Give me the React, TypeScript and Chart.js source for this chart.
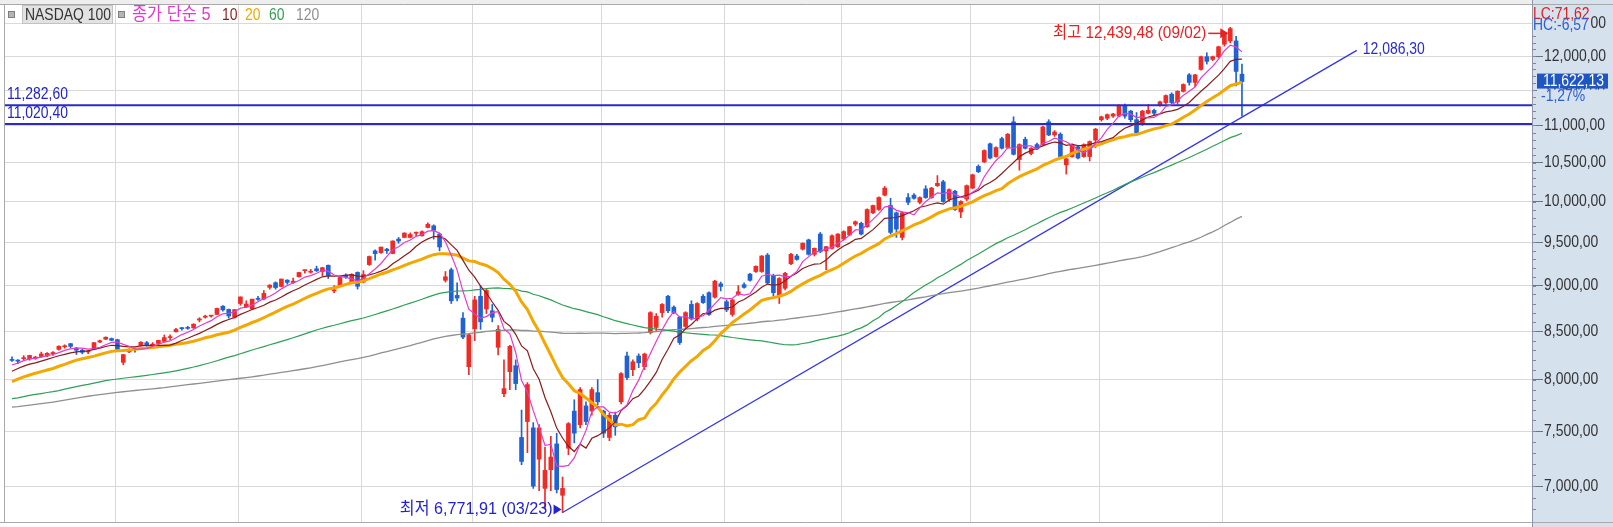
import React, { useEffect, useRef } from "react";
import { Chart, registerables } from "chart.js";

Chart.register(...registerables);

const W = 1613;
const H = 527;
const FONT = "'Liberation Sans', Arial, 'Noto Sans CJK KR', sans-serif";

// Daily NASDAQ 100 candles, 2019-11-05 .. 2020-09-04 (one line per month)
const opens = [
  8205, 8195, 8212, 8210, 8218, 8235, 8240, 8262, 8308, 8335, 8368, 8322, 8300, 8282, 8310, 8385, 8415, 8422,
  8410, 8175, 8282, 8318, 8350, 8378, 8343, 8370, 8392, 8432, 8495, 8532, 8538, 8535, 8620, 8650, 8662, 8680, 8770, 8735, 8650,
  8800, 8762, 8740, 8856, 8850, 8980, 9032, 8990, 9062, 9035, 9100, 9170, 9152, 9192, 9160, 9232, 8940, 9000, 9120, 9040, 9150,
  9040, 9240, 9400, 9380, 9420, 9370, 9540, 9560, 9560, 9610, 9580, 9680, 9700, 9600, 9060, 9180, 8890, 8640, 8130,
  8525, 8880, 8740, 8720, 8330, 7860, 8080, 8140, 7440, 7590, 7530, 7240, 6980, 7145, 7380, 6920, 7340, 7690, 7560, 7740, 7690, 7870,
  7690, 7440, 7650, 7780, 8240, 8100, 8240, 8130, 8485, 8540, 8700, 8880, 8760, 8650, 8550, 8790, 8630, 8880, 8920, 8870, 9020,
  8820, 8680, 8900, 9010, 9130, 9160, 9160, 9350, 9110, 8890, 8970, 9250, 9340, 9420, 9530, 9360, 9600, 9400, 9430, 9450,
  9540, 9590, 9720, 9730, 9690, 9860, 9900, 10080, 9950, 9860, 9560, 10050, 10080, 9990, 10160, 10050, 10200, 10250, 10030, 10130, 9870, 10030,
  10170, 10450, 10510, 10750, 10580, 10820, 10700, 11050, 10540, 10810, 10620, 10740, 10740, 11050, 10870, 10880, 10470, 10580, 10710, 10580, 10580, 10800,
  11080, 11100, 11130, 11130, 11270, 11200, 11080, 11020, 11170, 11210, 11280, 11320, 11440, 11330, 11480, 11720, 11610, 11800, 11990, 11950, 11990,
  12180, 12230, 12230, 11730,
];
const highs = [
  8232, 8203, 8244, 8248, 8236, 8280, 8275, 8285, 8345, 8356, 8372, 8330, 8310, 8302, 8380, 8405, 8440, 8428,
  8415, 8258, 8315, 8322, 8390, 8392, 8380, 8405, 8460, 8462, 8530, 8542, 8552, 8580, 8645, 8672, 8670, 8750, 8776, 8740, 8735,
  8873, 8830, 8850, 8880, 8945, 9010, 9042, 9075, 9066, 9085, 9150, 9176, 9185, 9222, 9210, 9236, 9000, 9100, 9135, 9135, 9156,
  9170, 9340, 9412, 9445, 9430, 9520, 9560, 9615, 9615, 9625, 9640, 9736, 9712, 9610, 9160, 9200, 9030, 8700, 8470,
  8880, 9000, 8960, 8790, 8560, 8200, 8350, 8200, 7700, 7970, 7580, 7560, 7350, 7450, 7480, 7080, 7580, 7800, 7920, 7780, 7920, 8000,
  7700, 7670, 7680, 8070, 8280, 8200, 8262, 8270, 8710, 8690, 8800, 8890, 8775, 8660, 8710, 8830, 8810, 8900, 8930, 9060, 9040,
  8840, 8850, 9000, 9030, 9140, 9225, 9345, 9370, 9130, 9090, 9150, 9370, 9360, 9495, 9540, 9435, 9620, 9455, 9590, 9605,
  9640, 9695, 9760, 9745, 9910, 9955, 10060, 10190, 10040, 9870, 9870, 10100, 10100, 10060, 10200, 10180, 10330, 10270, 10160, 10140, 10010, 10210,
  10350, 10470, 10670, 10760, 10710, 10840, 10890, 11120, 10750, 10840, 10700, 10760, 10990, 11080, 10930, 10900, 10560, 10750, 10730, 10750, 10790, 10960,
  11130, 11160, 11170, 11290, 11300, 11210, 11180, 11210, 11290, 11230, 11340, 11430, 11460, 11490, 11590, 11740, 11730, 12000, 12050, 12000, 12150,
  12370, 12439.48, 12300, 11880,
];
const lows = [
  8183, 8160, 8198, 8196, 8205, 8225, 8232, 8246, 8300, 8320, 8325, 8255, 8262, 8265, 8310, 8378, 8410, 8400,
  8290, 8150, 8275, 8280, 8345, 8340, 8330, 8360, 8385, 8410, 8490, 8510, 8520, 8530, 8600, 8640, 8650, 8680, 8715, 8640, 8640,
  8780, 8755, 8735, 8835, 8840, 8960, 8960, 8985, 9015, 9025, 9095, 9140, 9140, 9160, 9110, 9080, 8920, 8990, 9080, 9020, 8960,
  9030, 9230, 9290, 9370, 9370, 9365, 9490, 9555, 9555, 9580, 9575, 9675, 9540, 9400, 9040, 8800, 8830, 8420, 8050,
  8400, 8520, 8690, 8600, 8250, 7830, 7900, 7900, 7190, 7300, 6980, 6960, 6800, 6960, 6940, 6771.91, 7280, 7390, 7530, 7560, 7650, 7750,
  7440, 7410, 7460, 7760, 8000, 8040, 8120, 8100, 8470, 8500, 8650, 8700, 8690, 8360, 8540, 8620, 8610, 8800, 8670, 8860, 8940,
  8710, 8660, 8890, 8970, 9050, 9150, 9150, 9020, 8880, 8800, 8950, 9240, 9290, 9410, 9350, 9340, 9380, 9180, 9420, 9440,
  9530, 9580, 9700, 9590, 9680, 9850, 9890, 10070, 9600, 9560, 9530, 9960, 10030, 9970, 10040, 10040, 10190, 9990, 10000, 9890, 9800, 10010,
  10160, 10370, 10500, 10550, 10570, 10680, 10690, 10600, 10400, 10680, 10600, 10670, 10730, 10860, 10850, 10570, 10350, 10570, 10550, 10570, 10520, 10700,
  11060, 11080, 11110, 11120, 11100, 11050, 10880, 11000, 11160, 11150, 11270, 11300, 11300, 11300, 11470, 11570, 11550, 11790, 11880, 11930, 11970,
  12150, 12200, 11560, 11130,
];
const closes = [
  8194, 8187, 8220, 8245, 8229, 8261, 8267, 8276, 8341, 8346, 8340, 8300, 8278, 8290, 8379, 8399, 8436, 8403,
  8309, 8254, 8300, 8307, 8382, 8345, 8363, 8403, 8432, 8440, 8518, 8527, 8530, 8575, 8632, 8662, 8665, 8746, 8730, 8664, 8733,
  8873, 8794, 8848, 8846, 8912, 9005, 8978, 9074, 9036, 9050, 9149, 9173, 9160, 9169, 9204, 9115, 8953, 9092, 9098, 9125, 8992,
  9126, 9334, 9368, 9445, 9402, 9517, 9517, 9613, 9595, 9623, 9629, 9718, 9645, 9446, 9100, 8830, 8860, 8437, 8462,
  8840, 8600, 8945, 8650, 8520, 7910, 8340, 7960, 7220, 7950, 7000, 7530, 7140, 7260, 6970, 6980, 7570, 7480, 7900, 7590, 7900, 7780,
  7480, 7650, 7540, 8060, 8020, 8180, 8170, 8260, 8700, 8660, 8790, 8720, 8700, 8380, 8700, 8640, 8800, 8810, 8680, 9050, 8990,
  8730, 8840, 8930, 8980, 9060, 9220, 9340, 9030, 8920, 9080, 9140, 9360, 9300, 9490, 9360, 9430, 9390, 9450, 9580, 9600,
  9630, 9690, 9750, 9600, 9900, 9950, 10050, 10170, 9620, 9660, 9860, 9990, 10040, 10050, 10050, 10170, 10230, 10000, 10150, 9900, 10000, 10200,
  10340, 10380, 10660, 10560, 10700, 10690, 10880, 10610, 10740, 10690, 10690, 10680, 10980, 10870, 10910, 10580, 10550, 10740, 10560, 10740, 10780, 10950,
  11120, 11150, 11160, 11280, 11130, 11080, 10900, 11200, 11210, 11170, 11330, 11420, 11320, 11480, 11580, 11610, 11720, 11990, 11920, 11990, 12140,
  12360, 12420, 11771.13, 11622.13,
];
// closes before the first visible candle (2019-05-17 .. 2019-11-04), used by the moving averages
const priorCloses = [
  7500, 7370, 7460, 7430, 7330, 7340, 7320, 7260, 7290, 7130,
  6980, 7180, 7240, 7320, 7450, 7530, 7520, 7510, 7550, 7520, 7570, 7670, 7700, 7750, 7720, 7710, 7560, 7600, 7630, 7670,
  7770, 7790, 7850, 7840, 7780, 7820, 7880, 7890, 7940, 7960, 7940, 7900, 7920, 7840, 7910, 7960, 8000, 7940, 8020, 7990, 7960, 7850,
  7790, 7700, 7440, 7560, 7590, 7760, 7690, 7600, 7760, 7520, 7520, 7640, 7720, 7670, 7740, 7720, 7490, 7570, 7540, 7580, 7690, 7660,
  7610, 7710, 7850, 7850, 7830, 7820, 7900, 7920, 7900, 7880, 7910, 7910, 7910, 7830, 7820, 7710, 7790, 7740, 7670, 7750,
  7660, 7570, 7640, 7760, 7720, 7620, 7700, 7760, 7860, 7860, 7950, 7940, 7970, 7880, 7950, 7880, 7900, 7980, 8040, 8110, 8070, 8090, 8090,
  8160, 8200,
];

const monthStartIdx = [18, 39, 60, 79, 101, 122, 142, 164, 186, 207];
const priceTicks = [7000, 7500, 8000, 8500, 9000, 9500, 10000, 10500, 11000, 11500, 12000, 12500];
const levelLines = [11282.6, 11020.4];
const trendPoints = [
  { x: 94, y: 6771.91 },
  { x: 229.6, y: 12086.3 },
];
const maPeriods = [5, 10, 20, 60, 120];
const maColors = ["#e03ccf", "#8a1c1c", "#f4a700", "#2f9f57", "#8f8f8f"];
const maWidths = [1.2, 1.2, 3, 1.2, 1.3];
const legendTitle = "NASDAQ 100";
const legendPrefix = "종가 단순";
const highIdx = 208;
const lowIdx = 94;
const highDate = "09/02";
const lowDate = "03/23";

const UP = "#ee2b25";
const DOWN = "#1f62d3";
const AXIS_BG = "#d6e1ee";

function fmt(v: number, d = 2): string {
  const s = Math.abs(v).toFixed(d);
  const [a, b] = s.split(".");
  const withC = a.replace(/\B(?=(\d{3})+(?!\d))/g, ",");
  return (v < 0 ? "-" : "") + withC + (b !== undefined ? "," + b : "");
}

const allCloses = [...priorCloses, ...closes];
function sma(n: number): number[] {
  return closes.map((_, i) => {
    const end = priorCloses.length + i;
    let s = 0;
    for (let k = end - n + 1; k <= end; k++) s += allCloses[k];
    return s / n;
  });
}

// draws horizontally condensed text; returns the drawn width
function txt(
  ctx: CanvasRenderingContext2D,
  s: string,
  x: number,
  y: number,
  color: string,
  size = 17,
  align: CanvasTextAlign = "left",
  sx = 0.82
): number {
  ctx.save();
  ctx.font = `${size}px ${FONT}`;
  ctx.fillStyle = color;
  ctx.textBaseline = "middle";
  ctx.textAlign = align;
  const w = ctx.measureText(s).width * sx;
  ctx.translate(x, y);
  ctx.scale(sx, 1);
  ctx.fillText(s, 0, 0);
  ctx.restore();
  return w;
}
function txtW(ctx: CanvasRenderingContext2D, s: string, size = 17, sx = 0.82): number {
  ctx.save();
  ctx.font = `${size}px ${FONT}`;
  const w = ctx.measureText(s).width * sx;
  ctx.restore();
  return w;
}

export default function App() {
  const ref = useRef<HTMLCanvasElement | null>(null);

  useEffect(() => {
    document.body.style.margin = "0";
    const canvas = ref.current!;
    const candleColors = closes.map((c, i) => (c >= opens[i] ? UP : DOWN));

    const maSets = maPeriods.map((p, k) => ({
      type: "line" as const,
      label: "MA" + p,
      data: sma(p).map((v, i) => ({ x: i, y: v })),
      borderColor: maColors[k],
      borderWidth: maWidths[k],
      pointRadius: 0,
      tension: 0,
      order: 0,
    }));

    const decor = {
      id: "decor",
      beforeDraw(chart: any) {
        const { ctx, chartArea: ca } = chart;
        ctx.save();
        ctx.fillStyle = "#ffffff";
        ctx.fillRect(0, 0, W, H);
        ctx.fillStyle = "#eeeeee";
        ctx.fillRect(0, 0, ca.right, ca.top);
        ctx.fillStyle = AXIS_BG;
        ctx.fillRect(ca.right, 0, W - ca.right, H);
        ctx.restore();
      },
      afterDraw(chart: any) {
        const { ctx, chartArea: ca, scales } = chart;
        const xs = scales.x;
        const ys = scales.y;
        ctx.save();

        // minor ticks on price axis
        ctx.strokeStyle = "#7d8795";
        ctx.lineWidth = 1;
        for (let p = 6800; p <= 12800; p += 100) {
          const y = Math.round(ys.getPixelForValue(p)) + 0.5;
          if (y < ca.top || y > ca.bottom) continue;
          ctx.beginPath();
          ctx.moveTo(ca.right, y);
          ctx.lineTo(ca.right + 4, y);
          ctx.stroke();
        }
        // price tick labels
        priceTicks.forEach((v) => {
          txt(ctx, fmt(v), ca.right + 12, ys.getPixelForValue(v), "#333333");
        });

        // frame
        ctx.strokeStyle = "#a9a9a9";
        ctx.beginPath();
        ctx.moveTo(0, ca.top + 0.5);
        ctx.lineTo(W, ca.top + 0.5);
        ctx.moveTo(ca.left + 0.5, ca.top);
        ctx.lineTo(ca.left + 0.5, ca.bottom);
        ctx.moveTo(0, ca.bottom + 0.5);
        ctx.lineTo(W, ca.bottom + 0.5);
        ctx.stroke();
        ctx.strokeStyle = "#8d97a5";
        ctx.beginPath();
        ctx.moveTo(ca.right + 0.5, 0);
        ctx.lineTo(ca.right + 0.5, H);
        ctx.stroke();

        // legend
        const ly = 15;
        ctx.fillStyle = "#b4b4b4";
        ctx.strokeStyle = "#7f7f7f";
        ctx.fillRect(8.5, 11.5, 6, 6);
        ctx.strokeRect(8.5, 11.5, 6, 6);
        ctx.fillStyle = "#e2e2e2";
        ctx.fillRect(22, 5, 91, 19);
        ctx.strokeStyle = "#c2c2c2";
        ctx.strokeRect(22.5, 5.5, 90, 18);
        txt(ctx, legendTitle, 25, ly, "#333333");
        ctx.fillStyle = "#b4b4b4";
        ctx.strokeStyle = "#7f7f7f";
        ctx.fillRect(118.5, 11.5, 6, 6);
        ctx.strokeRect(118.5, 11.5, 6, 6);
        txt(ctx, legendPrefix + " " + maPeriods[0], 132, ly, maColors[0], 18, "left", 0.91);
        const numX = [222, 245, 269, 296];
        for (let k = 1; k < maPeriods.length; k++) {
          txt(ctx, String(maPeriods[k]), numX[k - 1], ly, maColors[k]);
        }

        // level labels
        levelLines.forEach((lv) => {
          const y = ys.getPixelForValue(lv);
          txt(ctx, fmt(lv), 7, y - 11, "#2323c8");
        });

        // trend line end label
        const tx = xs.getPixelForValue(trendPoints[1].x);
        const ty = ys.getPixelForValue(trendPoints[1].y);
        txt(ctx, fmt(trendPoints[1].y), tx + 6, ty - 1, "#2a2ad0");

        // high marker
        const hx = xs.getPixelForValue(highIdx);
        const hy = ys.getPixelForValue(highs[highIdx]);
        const hay = hy + 6;
        ctx.strokeStyle = "#e82020";
        ctx.fillStyle = "#e82020";
        ctx.lineWidth = 1.5;
        ctx.beginPath();
        ctx.moveTo(hx - 22, hay);
        ctx.lineTo(hx - 8, hay);
        ctx.stroke();
        ctx.beginPath();
        ctx.moveTo(hx - 2, hay);
        ctx.lineTo(hx - 10, hay - 5);
        ctx.lineTo(hx - 10, hay + 5);
        ctx.closePath();
        ctx.fill();
        txt(ctx, `최고 ${fmt(highs[highIdx])} (${highDate})`, hx - 24, hay, "#e82020", 17, "right", 0.9);

        // low marker
        const lwx = xs.getPixelForValue(lowIdx);
        const lwy = ys.getPixelForValue(lows[lowIdx]) - 3;
        ctx.fillStyle = "#2323d6";
        ctx.beginPath();
        ctx.moveTo(lwx - 1, lwy);
        ctx.lineTo(lwx - 9, lwy - 5);
        ctx.lineTo(lwx - 9, lwy + 5);
        ctx.closePath();
        ctx.fill();
        txt(ctx, `최저 ${fmt(lows[lowIdx])} (${lowDate})`, lwx - 10, lwy, "#2323d6", 17, "right", 0.95);

        // current price box and change
        const last = closes[closes.length - 1];
        const prev = closes[closes.length - 2];
        const cy = ys.getPixelForValue(last) - 1;
        ctx.fillStyle = "#1f56c4";
        ctx.fillRect(ca.right + 5, cy - 7, 71, 15);
        txt(ctx, fmt(last), ca.right + 11, cy + 1, "#ffffff");
        const chg = fmt(((last - prev) / prev) * 100) + "%";
        ctx.fillStyle = AXIS_BG;
        ctx.fillRect(ca.right + 5, cy + 9, 71, 14);
        txt(ctx, chg, ca.right + 9, cy + 16, "#2d5fd0");

        // LC / HC
        const lc = ((last - lows[lowIdx]) / lows[lowIdx]) * 100;
        const hc = ((last - highs[highIdx]) / highs[highIdx]) * 100;
        const lcT = "LC:" + fmt(lc);
        const hcT = "HC:" + fmt(hc);
        const wBox = Math.max(txtW(ctx, lcT), txtW(ctx, hcT)) + 1;
        ctx.fillStyle = AXIS_BG;
        ctx.fillRect(ca.right + 1, 5, wBox, 27);
        txt(ctx, lcT, ca.right + 1, 14, "#e02020");
        txt(ctx, hcT, ca.right + 1, 25, "#2d5fd0");

        ctx.restore();
      },
    };

    const chart = new Chart(canvas, {
      type: "bar",
      data: {
        datasets: [
          ...maSets,
          ...levelLines.map((lv) => ({
            type: "line" as const,
            label: "level " + lv,
            data: [
              { x: -5, y: lv },
              { x: 265, y: lv },
            ],
            borderColor: "#2a2ac8",
            borderWidth: 2,
            pointRadius: 0,
            order: 0,
          })),
          {
            type: "line" as const,
            label: "trend",
            data: trendPoints,
            borderColor: "#3535e6",
            borderWidth: 1.3,
            pointRadius: 0,
            order: 0,
          },
          {
            type: "bar" as const,
            label: "wick",
            data: lows.map((l, i) => ({ x: i, y: [Math.min(l, opens[i], closes[i]), Math.max(highs[i], opens[i], closes[i])] })),
            backgroundColor: candleColors,
            barThickness: 1,
            grouped: false,
            order: 2,
          },
          {
            type: "bar" as const,
            label: "body",
            data: opens.map((o, i) => ({ x: i, y: [o, closes[i]] })),
            backgroundColor: candleColors,
            barThickness: 4,
            minBarLength: 1,
            grouped: false,
            order: 1,
          },
        ] as any,
      },
      options: {
        responsive: false,
        devicePixelRatio: 1,
        animation: false,
        events: [],
        layout: { padding: { left: 4, top: 4, right: 0, bottom: 5 } },
        plugins: { legend: { display: false }, tooltip: { enabled: false } },
        scales: {
          x: {
            type: "linear",
            min: -1.366,
            max: 259.52,
            offset: false,
            bounds: "data",
            ticks: { display: false },
            grid: { color: "#d9d9d9", drawTicks: false, offset: false },
            border: { display: false },
            afterBuildTicks: (s: any) => {
              s.ticks = monthStartIdx.map((i) => ({ value: i - 0.4 }));
            },
            afterFit: (s: any) => {
              s.height = 0;
              s.paddingLeft = 0;
              s.paddingRight = 0;
            },
          },
          y: {
            type: "logarithmic",
            position: "right",
            min: 6692,
            max: 12809,
            bounds: "data",
            offset: false,
            grid: { color: "#d9d9d9", tickColor: "#6b7482", tickLength: 11 },
            border: { display: false },
            ticks: { display: false },
            afterBuildTicks: (s: any) => {
              s.ticks = priceTicks.map((v) => ({ value: v }));
            },
            afterFit: (s: any) => {
              s.width = 81;
              s.paddingTop = 0;
              s.paddingBottom = 0;
            },
          },
        },
      } as any,
      plugins: [decor],
    });
    return () => chart.destroy();
  }, []);

  return <canvas ref={ref} width={W} height={H} style={{ display: "block" }} />;
}
